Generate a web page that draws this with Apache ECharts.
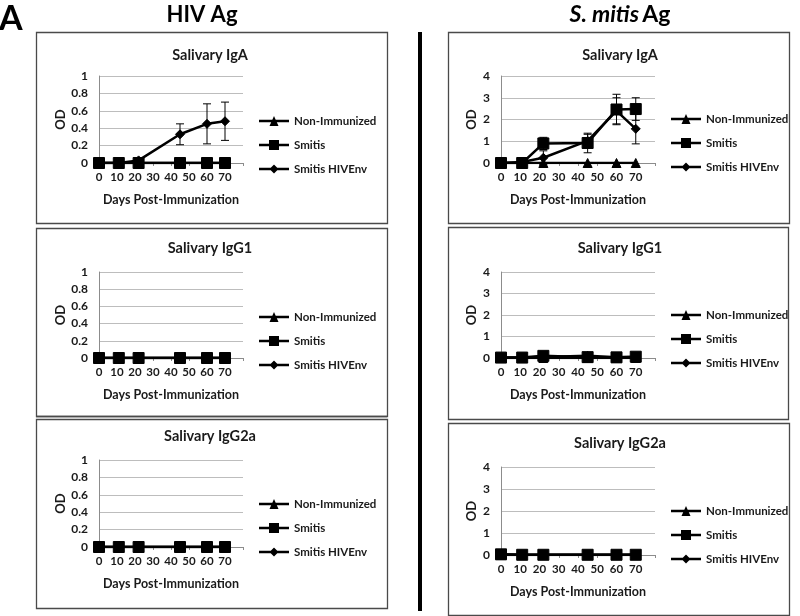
<!DOCTYPE html>
<html>
<head>
<meta charset="utf-8">
<script src="https://cdn.jsdelivr.net/npm/echarts@6/dist/echarts.min.js"></script>
<style>
html,body{margin:0;padding:0;background:#fff;}
#chart{width:800px;height:616px;}
</style>
</head>
<body>
<div id="chart"></div>
<script>
// ---------- data ----------
const days = [0, 11, 22, 45, 60, 70];
const xTickLabels = ['0', '10', '20', '30', '40', '50', '60', '70'];
const seriesNames = ['Non-Immunized', 'Smitis', 'Smitis HIVEnv'];
const panelTitles = ['Salivary IgA', 'Salivary IgG1', 'Salivary IgG2a'];

// HIV Ag column
const hivIgA_non = [0, 0, 0, 0, 0, 0];
const hivIgA_smitis = [0, 0, 0, 0, 0, 0];
const hivIgA_env = [0, 0, 0.03, 0.33, 0.45, 0.48];
const hivIgA_envErr = [0, 0, 0, 0.12, 0.23, 0.22];

const hivIgG1_non = [0, 0, 0, 0, 0, 0];
const hivIgG1_smitis = [0, 0, 0, 0, 0, 0];
const hivIgG1_env = [0, 0, 0, 0, 0, 0];

const hivIgG2a_non = [0, 0, 0, 0, 0, 0];
const hivIgG2a_smitis = [0, 0, 0, 0, 0, 0];
const hivIgG2a_env = [0, 0, 0, 0, 0, 0];

// S. mitis Ag column
const smIgA_non = [0, 0, 0, 0, 0, 0];
const smIgA_smitis = [0, 0, 0.9, 0.92, 2.46, 2.48];
const smIgA_smitisErr = [0, 0, 0.28, 0.45, 0.7, 0.52];
const smIgA_env = [0, 0.05, 0.24, 1.02, 2.4, 1.57];
const smIgA_envErr = [0, 0, 0.32, 0.3, 0.6, 0.69];

const smIgG1_non = [0, 0, 0, 0, 0, 0];
const smIgG1_smitis = [0.02, 0.02, 0.1, 0.04, 0.03, 0.06];
const smIgG1_env = [0.02, 0.02, 0.05, 0.1, 0.03, 0.05];

const smIgG2a_non = [0, 0, 0, 0, 0, 0];
const smIgG2a_smitis = [0.03, 0.01, 0.01, 0.01, 0.01, 0.01];
const smIgG2a_env = [0.02, 0.01, 0.01, 0.01, 0.01, 0.01];

const hivYTicks = [0, 0.2, 0.4, 0.6, 0.8, 1];
const smYTicks = [0, 1, 2, 3, 4];

// ---------- layout ----------
const FONT = 'Lato, "Open Sans", sans-serif';
const TXT = '#1a1a1a';
const panels = [
  {grid: {left: 99, top: 76, width: 144, height: 87}, ymax: 1, yint: 0.2, legendLeft: 259, legendTop: 114, nameGap: 32,
   data: [hivIgA_non, hivIgA_smitis, hivIgA_env], err: [null, null, hivIgA_envErr], title: [0, 210, 55]},
  {grid: {left: 99, top: 272, width: 144, height: 86}, ymax: 1, yint: 0.2, legendLeft: 259, legendTop: 310, nameGap: 32,
   data: [hivIgG1_non, hivIgG1_smitis, hivIgG1_env], err: [null, null, null], title: [1, 210, 248]},
  {grid: {left: 99, top: 460, width: 144, height: 87}, ymax: 1, yint: 0.2, legendLeft: 259, legendTop: 497, nameGap: 32,
   data: [hivIgG2a_non, hivIgG2a_smitis, hivIgG2a_env], err: [null, null, null], title: [2, 210, 436]},
  {grid: {left: 501, top: 76, width: 154, height: 87}, ymax: 4, yint: 1, legendLeft: 671, legendTop: 112, nameGap: 23,
   data: [smIgA_non, smIgA_smitis, smIgA_env], err: [null, smIgA_smitisErr, smIgA_envErr], title: [0, 620, 55]},
  {grid: {left: 501, top: 272, width: 154, height: 86}, ymax: 4, yint: 1, legendLeft: 671, legendTop: 308, nameGap: 23,
   data: [smIgG1_non, smIgG1_smitis, smIgG1_env], err: [null, null, null], title: [1, 620, 248]},
  {grid: {left: 501, top: 467, width: 154, height: 88}, ymax: 4, yint: 1, legendLeft: 671, legendTop: 504, nameGap: 23,
   data: [smIgG2a_non, smIgG2a_smitis, smIgG2a_env], err: [null, null, null], title: [2, 620, 443]}
];

const symbols = ['triangle', 'rect', 'diamond'];
const symbolSizes = [9, 11, 9];
const zs = [3, 5, 4];
const legendIcons = [
  'path://M0,3.8 L30,3.8 L30,6.2 L0,6.2 Z M10.5,10 L15,0 L19.5,10 Z',
  'path://M0,3.8 L30,3.8 L30,6.2 L0,6.2 Z M10,0 L20,0 L20,10 L10,10 Z',
  'path://M0,3.8 L30,3.8 L30,6.2 L0,6.2 Z M15,0.5 L19.5,5 L15,9.5 L10.5,5 Z M15,0 L15.01,0 L15.01,10 L15,10 Z'
];

const grids = [], xAxes = [], yAxes = [], series = [], legends = [], graphics = [];

panels.forEach((p, i) => {
  grids.push(p.grid);
  xAxes.push({
    type: 'value', gridIndex: i, min: 0, max: 80, interval: 10,
    name: 'Days Post-Immunization', nameLocation: 'middle', nameGap: 30,
    nameTextStyle: {fontFamily: FONT, fontWeight: 'bold', fontSize: 12.5, color: TXT},
    axisLine: {show: true, lineStyle: {color: '#8c8c8c', width: 1}},
    axisTick: {show: true, length: 3, lineStyle: {color: '#8c8c8c'}},
    splitLine: {show: false},
    axisLabel: {
      fontFamily: FONT, fontWeight: 'bold', fontSize: 11.5, color: TXT, margin: 8,
      formatter: v => { const k = Math.round(v / 10); return k < xTickLabels.length ? xTickLabels[k] : ''; }
    }
  });
  const yt = p.ymax === 1 ? hivYTicks : smYTicks;
  yAxes.push({
    type: 'value', gridIndex: i, min: 0, max: p.ymax, interval: p.yint,
    name: 'OD', nameLocation: 'middle', nameGap: p.nameGap, nameRotate: 90,
    nameTextStyle: {fontFamily: FONT, fontWeight: 'bold', fontSize: 13, color: TXT},
    axisLine: {show: true, lineStyle: {color: '#8c8c8c', width: 1}},
    axisTick: {show: false},
    splitLine: {show: true, lineStyle: {color: '#bdbdbd', width: 1}},
    axisLabel: {
      fontFamily: FONT, fontWeight: 'bold', fontSize: 12, color: TXT, margin: 11,
      formatter: v => { const idx = yt.findIndex(t => Math.abs(t - v) < 1e-6); return idx >= 0 ? String(yt[idx]) : ''; }
    }
  });
  seriesNames.forEach((name, s) => {
    series.push({
      name: name, type: 'line', xAxisIndex: i, yAxisIndex: i,
      data: days.map((d, k) => [d, p.data[s][k]]),
      symbol: symbols[s], symbolSize: symbolSizes[s], showSymbol: true,
      lineStyle: {color: '#000', width: 2.5},
      itemStyle: {color: '#000', borderColor: '#000'},
      z: zs[s], animation: false, silent: true
    });
    if (p.err[s]) {
      const e = p.err[s];
      series.push({
        type: 'custom', xAxisIndex: i, yAxisIndex: i, z: 2, animation: false, silent: true,
        data: days.map((d, k) => [d, p.data[s][k], e[k]]).filter(r => r[2] > 0),
        encode: {x: 0, y: 1},
        renderItem: function (params, api) {
          const x = api.value(0), m = api.value(1), er = api.value(2);
          const top = api.coord([x, m + er]);
          const bot = api.coord([x, m - er]);
          const cap = 4;
          const st = {stroke: '#000', lineWidth: 1};
          return {
            type: 'group', children: [
              {type: 'line', shape: {x1: top[0], y1: top[1], x2: bot[0], y2: bot[1]}, style: st},
              {type: 'line', shape: {x1: top[0] - cap, y1: top[1], x2: top[0] + cap, y2: top[1]}, style: st},
              {type: 'line', shape: {x1: bot[0] - cap, y1: bot[1], x2: bot[0] + cap, y2: bot[1]}, style: st}
            ]
          };
        }
      });
    }
  });
  legends.push({
    orient: 'vertical', left: p.legendLeft, top: p.legendTop, padding: 0,
    data: seriesNames.map((n, s) => ({name: n, icon: legendIcons[s]})),
    itemWidth: 30, itemHeight: 10, itemGap: 10,
    selectedMode: false,
    itemStyle: {color: '#000', borderWidth: 0},
    textStyle: {fontFamily: FONT, fontWeight: 'bold', fontSize: 11.5, color: TXT, lineHeight: 14}
  });
  graphics.push({
    type: 'text', silent: true, x: p.title[1], y: p.title[2],
    style: {text: panelTitles[p.title[0]], fontFamily: FONT, fontWeight: 'bold', fontSize: 14.5, fill: TXT,
            textAlign: 'center', textVerticalAlign: 'middle'}
  });
});

// panel borders
const borders = [
  [36, 32, 351, 191], [36, 228, 351, 188], [36, 419, 351, 189],
  [448, 32, 341, 191], [448, 227, 340, 192], [448, 423, 341, 192]
];
borders.forEach(b => graphics.push({
  type: 'rect', silent: true, z: -1,
  shape: {x: b[0] + 0.5, y: b[1] + 0.5, width: b[2], height: b[3]},
  style: {fill: 'none', stroke: '#4a4a4a', lineWidth: 1.3}
}));
// double line above bottom-left panel
graphics.push({type: 'line', silent: true, shape: {x1: 36, y1: 416.5, x2: 387, y2: 416.5}, style: {stroke: '#4a4a4a', lineWidth: 1.3}});

// divider bar
graphics.push({type: 'rect', silent: true, shape: {x: 418, y: 32, width: 4, height: 579}, style: {fill: '#000'}});

// headings
graphics.push({type: 'text', silent: true, x: -1, y: 19,
  style: {text: 'A', fontFamily: FONT, fontWeight: 'bold', fontSize: 34, fill: '#000', textAlign: 'left', textVerticalAlign: 'middle'}});
graphics.push({type: 'text', silent: true, x: 202, y: 15,
  style: {text: 'HIV Ag', fontFamily: FONT, fontWeight: 'bold', fontSize: 22, fill: '#000', textAlign: 'center', textVerticalAlign: 'middle'}});
graphics.push({type: 'text', silent: true, x: 620, y: 15,
  style: {text: '{i|S. mitis} {b|Ag}', textAlign: 'center', textVerticalAlign: 'middle',
    rich: {
      i: {fontFamily: FONT, fontWeight: 'bold', fontStyle: 'italic', fontSize: 23, fill: '#000'},
      b: {fontFamily: FONT, fontWeight: 'bold', fontSize: 23, fill: '#000'}
    }}});

const chart = echarts.init(document.getElementById('chart'), null, {renderer: 'canvas'});
chart.setOption({
  animation: false,
  backgroundColor: '#fff',
  grid: grids,
  xAxis: xAxes,
  yAxis: yAxes,
  legend: legends,
  series: series,
  graphic: graphics
});
</script>
</body>
</html>
